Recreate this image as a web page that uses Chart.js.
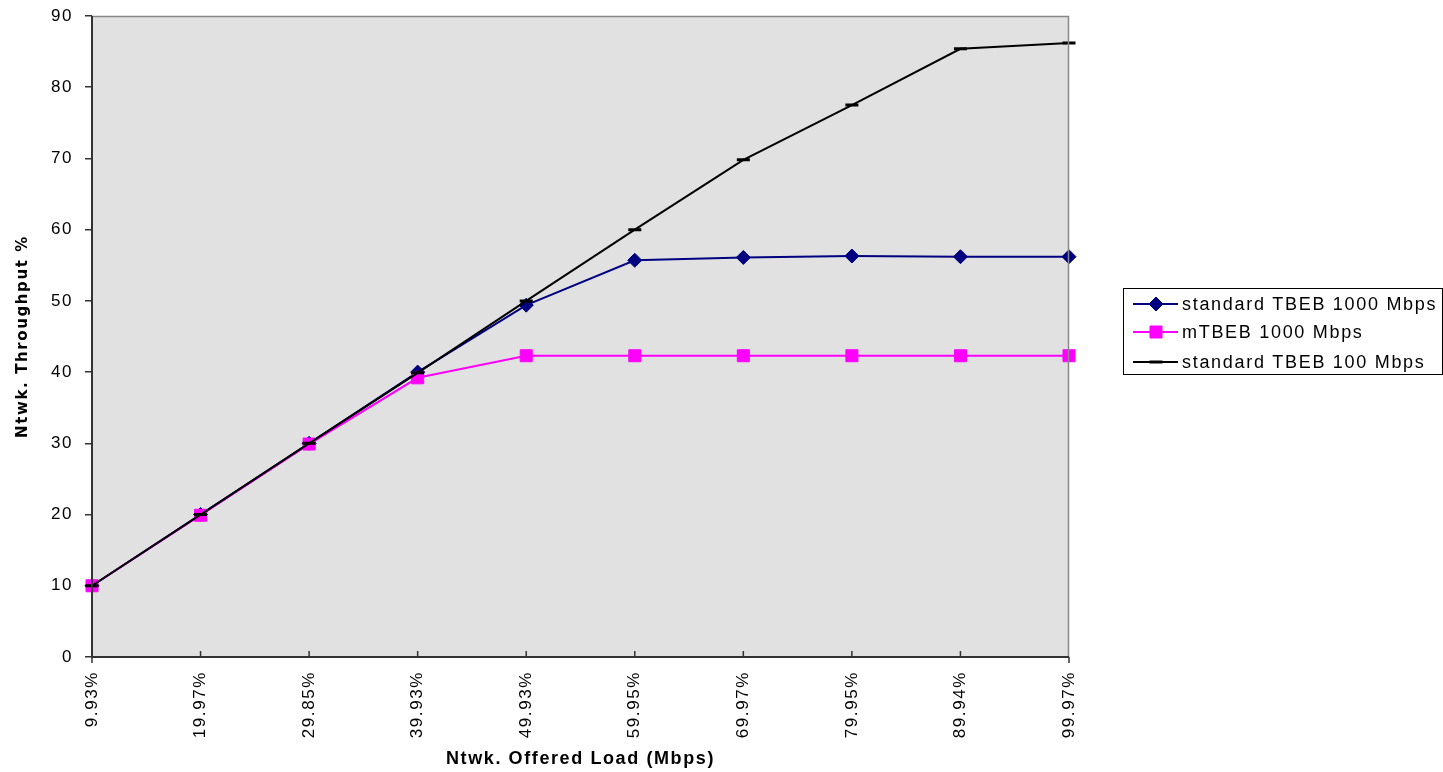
<!DOCTYPE html>
<html>
<head>
<meta charset="utf-8">
<script src="https://cdn.jsdelivr.net/npm/chart.js@4.4.1/dist/chart.umd.min.js"></script>
<style>
  html, body { margin: 0; padding: 0; background: #fff; }
  #wrap { width: 1443px; height: 772px; position: relative; }
</style>
</head>
<body>
<div id="wrap"><canvas id="c" width="1443" height="772"></canvas></div>
<script>
// Offered load categories (x axis)
const loadLabels = ['9.93%', '19.97%', '29.85%', '39.93%', '49.93%', '59.95%', '69.97%', '79.95%', '89.94%', '99.97%'];
// Throughput (%) per series
const std1000 = [10, 20, 30, 40, 49.4, 55.7, 56.1, 56.3, 56.2, 56.2];
const mtbeb1000 = [10, 19.9, 29.9, 39.2, 42.3, 42.3, 42.3, 42.3, 42.3, 42.3];
const std100 = [10, 20, 30, 39.9, 50, 60, 69.8, 77.5, 85.4, 86.2];
// Y axis range
const yMin = 0, yMax = 90, yStep = 10;

const FONT = "'Liberation Sans', Arial, sans-serif";
const SPACING = '1.6px';

const seriesStyles = [
  { label: 'standard TBEB 1000 Mbps', data: std1000, color: '#000080', point: 'rectRot', radius: 7, bw: 1, order: 2 },
  { label: 'mTBEB 1000 Mbps', data: mtbeb1000, color: '#ff00ff', point: 'rect', radius: 8.5, bw: 1, order: 1 },
  { label: 'standard TBEB 100 Mbps', data: std100, color: '#000000', point: 'line', radius: 6.5, bw: 3, order: 0 }
];

// Canvas text spacing for every label
const spacingPlugin = {
  id: 'spacing',
  beforeUpdate(chart) { chart.ctx.letterSpacing = SPACING; },
  beforeDraw(chart) { chart.ctx.letterSpacing = SPACING; }
};

// Plot background, frame and category ticks
const framePlugin = {
  id: 'frame',
  beforeDatasetsDraw(chart) {
    const { ctx, chartArea: a } = chart;
    ctx.save();
    ctx.fillStyle = '#e1e1e1';
    ctx.fillRect(a.left, a.top, a.right - a.left, a.bottom - a.top);
    ctx.restore();
  },
  afterDatasetsDraw(chart) {
    const { ctx, chartArea: a, scales } = chart;
    ctx.save();
    ctx.lineWidth = 1.5;
    ctx.strokeStyle = '#888';
    ctx.beginPath();
    ctx.moveTo(a.left, a.top + 0.5); ctx.lineTo(a.right - 0.5, a.top + 0.5); ctx.lineTo(a.right - 0.5, a.bottom);
    ctx.stroke();
    ctx.strokeStyle = '#333';
    ctx.lineWidth = 2;
    ctx.beginPath();
    ctx.moveTo(a.left, a.top); ctx.lineTo(a.left, a.bottom); ctx.lineTo(a.right, a.bottom);
    ctx.stroke();
    ctx.lineWidth = 1.5;
    loadLabels.forEach((lab, i) => {
      const x = scales.x.getPixelForValue(i);
      ctx.beginPath();
      if (i === 0 || i === loadLabels.length - 1) {
        ctx.moveTo(x, a.bottom); ctx.lineTo(x, a.bottom + 6);
      } else {
        ctx.moveTo(x, a.bottom); ctx.lineTo(x, a.bottom - 6);
      }
      ctx.stroke();
    });
    ctx.restore();
  }
};

// Boxed legend with line + marker samples
const legendPlugin = {
  id: 'boxLegend',
  afterDraw(chart) {
    const { ctx } = chart;
    const bx = 1123, by = 288, bw = 319, bh = 86;
    ctx.save();
    ctx.letterSpacing = '1.7px';
    ctx.fillStyle = '#fff';
    ctx.fillRect(bx, by, bw, bh);
    ctx.strokeStyle = '#000';
    ctx.lineWidth = 1;
    ctx.strokeRect(bx + 0.5, by + 0.5, bw, bh);
    const rows = [304, 332, 362];
    chart.data.datasets.forEach((ds, i) => {
      const y = rows[i];
      ctx.strokeStyle = ds.borderColor;
      ctx.fillStyle = ds.borderColor;
      ctx.lineWidth = 2;
      ctx.beginPath(); ctx.moveTo(1133, y); ctx.lineTo(1178, y); ctx.stroke();
      ctx.lineWidth = ds.pointBorderWidth;
      Chart.helpers.drawPoint(ctx, {
        pointStyle: ds.pointStyle, radius: ds.pointRadius, borderWidth: ds.pointBorderWidth, rotation: 0
      }, 1156, y);
      ctx.fillStyle = '#000';
      ctx.font = '18px ' + FONT;
      ctx.textBaseline = 'middle';
      ctx.textAlign = 'left';
      ctx.fillText(ds.label, 1182, y + 1);
    });
    ctx.restore();
  }
};

const datasets = seriesStyles.map(s => ({
  label: s.label,
  data: s.data,
  borderColor: s.color,
  backgroundColor: s.color,
  pointBackgroundColor: s.color,
  pointBorderColor: s.color,
  pointStyle: s.point,
  pointRadius: s.radius,
  pointBorderWidth: s.bw,
  borderWidth: 2,
  tension: 0,
  order: s.order
}));

new Chart(document.getElementById('c'), {
  type: 'line',
  data: { labels: loadLabels, datasets },
  options: {
    responsive: false,
    animation: false,
    layout: { padding: { top: 16, right: 374, left: 0, bottom: 0 } },
    plugins: { legend: { display: false }, tooltip: { enabled: false } },
    scales: {
      x: {
        type: 'category',
        offset: false,
        border: { display: false },
        grid: { drawOnChartArea: false, drawTicks: true, tickLength: 8, tickColor: 'rgba(0,0,0,0)' },
        ticks: { autoSkip: false, minRotation: 90, maxRotation: 90, padding: 6, color: '#000', font: { family: FONT, size: 17 } },
        title: { display: true, text: 'Ntwk. Offered Load (Mbps)', color: '#000', font: { family: FONT, size: 18, weight: 'bold' }, padding: { top: 4, bottom: 2 } },
        afterFit(scale) { scale.height = 115; }
      },
      y: {
        min: yMin, max: yMax,
        border: { display: false },
        grid: { drawOnChartArea: false, drawTicks: true, tickLength: 7, tickColor: '#333', lineWidth: 1.5 },
        ticks: { stepSize: yStep, padding: 12, color: '#000', font: { family: FONT, size: 17 } },
        title: { display: true, text: 'Ntwk. Throughput %', color: '#000', font: { family: "'DejaVu Sans', sans-serif", size: 15, weight: 'bold' }, padding: { top: 14, bottom: 0 } },
        afterFit(scale) { scale.width = 92; scale.paddingTop = 0; scale.paddingBottom = 0; }
      }
    }
  },
  plugins: [spacingPlugin, framePlugin, legendPlugin]
});
</script>
</body>
</html>
